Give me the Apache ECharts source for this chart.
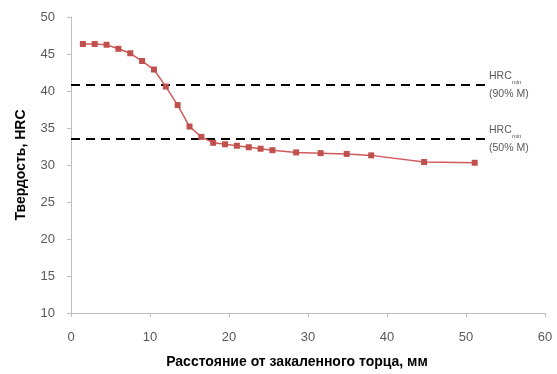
<!DOCTYPE html>
<html><head><meta charset="utf-8">
<script src="https://cdn.jsdelivr.net/npm/echarts@6/dist/echarts.min.js"></script>
<style>html,body{margin:0;padding:0;background:#fff}#c{width:557px;height:374px}</style>
</head><body><div id="c"></div>
<script>
const distances = [1.5, 3, 4.5, 6, 7.5, 9, 10.5, 12, 13.5, 15, 16.5, 18, 19.5, 21, 22.5, 24, 25.5, 28.5, 31.6, 34.9, 38, 44.7, 51.1];
const hardness = [46.35, 46.35, 46.25, 45.7, 45.1, 44.05, 42.9, 40.6, 38.1, 35.2, 33.8, 33.0, 32.8, 32.6, 32.4, 32.2, 32.0, 31.7, 31.6, 31.5, 31.3, 30.4, 30.3];
const hrc90 = 40.8;
const hrc50 = 33.5;
const refLineEnd = 52.4;
const xTitle = 'Расстояние от закаленного торца, мм';
const yTitle = 'Твердость, HRC';

const chart = echarts.init(document.getElementById('c'));
const font = 'Liberation Sans';
function refSeries(v, label) {
  return {
    type: 'line', data: [[0, v], [refLineEnd, v]], symbol: 'none', silent: true,
    lineStyle: { color: '#000', width: 2, type: [9, 6] },
    label: { show: false },
    endLabel: {
      show: true, distance: 4, align: 'left', verticalAlign: 'middle',
      formatter: '{a|HRC}{s|min}\n{a|' + label + '}',
      rich: {
        a: { fontFamily: font, fontSize: 10.5, color: '#595959', lineHeight: 18 },
        s: { fontFamily: font, fontSize: 6, color: '#595959', verticalAlign: 'bottom', padding: [6, 0, 0, 0] }
      }
    },
    z: 3
  };
}
chart.setOption({
  animation: false,
  grid: { left: 71, right: 12, top: 17, bottom: 60 },
  xAxis: {
    type: 'value', min: 0, max: 60, interval: 10,
    name: xTitle, nameLocation: 'middle', nameGap: 42,
    nameTextStyle: { fontFamily: font, fontWeight: 'bold', fontSize: 14, color: '#000', padding: [0, 22, 0, 0] },
    axisLine: { show: true, lineStyle: { color: '#bfbfbf' } },
    axisTick: { show: true, length: 4, lineStyle: { color: '#bfbfbf' } },
    axisLabel: { fontFamily: font, fontSize: 13, color: '#595959', margin: 18 },
    splitLine: { show: false }
  },
  yAxis: {
    type: 'value', min: 10, max: 50, interval: 5,
    name: yTitle, nameLocation: 'middle', nameGap: 43, nameRotate: 90,
    nameTextStyle: { fontFamily: font, fontWeight: 'bold', fontSize: 14, color: '#000' },
    axisLine: { show: true, lineStyle: { color: '#bfbfbf' } },
    axisTick: { show: true, length: 4, lineStyle: { color: '#bfbfbf' } },
    axisLabel: { fontFamily: font, fontSize: 13, color: '#595959', margin: 16 },
    splitLine: { show: false }
  },
  series: [
    refSeries(hrc90, '(90% M)'),
    refSeries(hrc50, '(50% M)'),
    {
      type: 'line', data: distances.map((d, i) => [d, hardness[i]]),
      symbol: 'rect', symbolSize: 6, smooth: false,
      lineStyle: { color: '#d05a5a', width: 1.5 },
      itemStyle: { color: '#c0504d' }, z: 4
    }
  ]
});
</script></body></html>
